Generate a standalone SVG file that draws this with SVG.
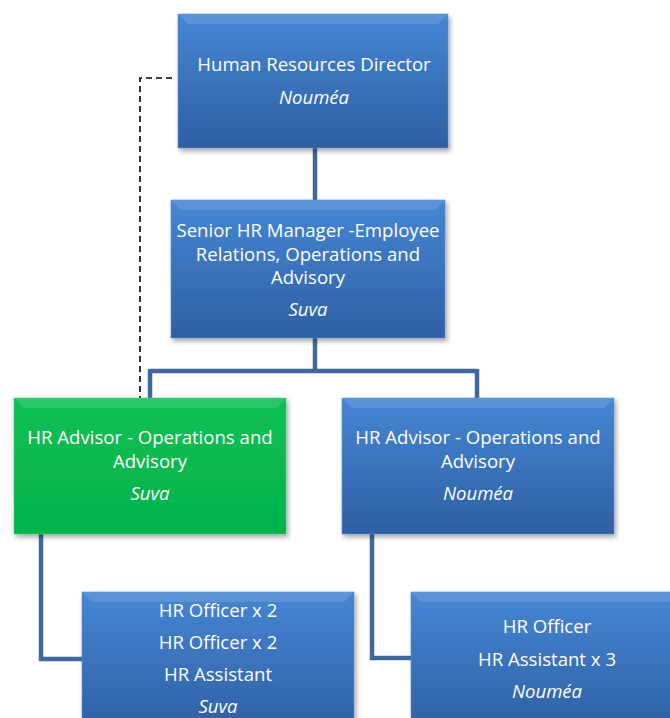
<svg xmlns="http://www.w3.org/2000/svg" width="670" height="718" viewBox="0 0 670 718">
<defs>
<linearGradient id="gb" x1="0" y1="0" x2="0" y2="1">
<stop offset="0" stop-color="#4686d4"/>
<stop offset="1" stop-color="#2e5fa3"/>
</linearGradient>
<linearGradient id="gg" x1="0" y1="0" x2="0" y2="1">
<stop offset="0" stop-color="#0abf54"/>
<stop offset="1" stop-color="#05b24b"/>
</linearGradient>
<filter id="sh" x="-10%" y="-10%" width="125%" height="125%">
<feDropShadow dx="2" dy="3" stdDeviation="2.5" flood-color="#000" flood-opacity="0.35"/>
</filter>
</defs>
<style>
.box{filter:url(#sh);stroke:#5b8cc8;stroke-width:0.6}
.b{fill:url(#gb)}
.g{fill:url(#gg);stroke:#3fcf78}
.bev{fill:#fff;opacity:0.12}
.t{font-family:"Open Sans","Liberation Sans",sans-serif;font-size:18.6px;fill:#fff;text-anchor:middle}
.i{font-style:italic}
.c{fill:none;stroke:#41689c;stroke-width:4.5}
.d{fill:none;stroke:#000;stroke-width:1.6;stroke-dasharray:6,4}
</style>
<g id="connectors">
<path class="c" d="M315 148V200"/>
<path class="c" d="M315 338V371M150 371H477M150 369V398M477 369V398"/>
<path class="c" d="M41 534V659H82"/>
<path class="c" d="M372 534V658H411"/>
<path class="d" d="M172 78H140V398"/>
</g>
<g id="n1">
<rect class="box b" x="178" y="14" width="270" height="134"/>
<polygon class="bev" points="178,14 448,14 438,24 188,24"/>
<text class="t" x="314" y="71">Human Resources Director</text>
<text class="t i" x="314" y="104">Nouméa</text>
</g>
<g id="n2">
<rect class="box b" x="171" y="200" width="274" height="138"/>
<polygon class="bev" points="171,200 445,200 435,210 181,210"/>
<text class="t" x="308" y="237">Senior HR Manager -Employee</text>
<text class="t" x="308" y="261">Relations, Operations and</text>
<text class="t" x="308" y="284">Advisory</text>
<text class="t i" x="308" y="316">Suva</text>
</g>
<g id="n3">
<rect class="box g" x="14" y="398" width="272" height="136"/>
<polygon class="bev" points="14,398 286,398 276,408 24,408"/>
<text class="t" x="150" y="444">HR Advisor - Operations and</text>
<text class="t" x="150" y="468">Advisory</text>
<text class="t i" x="150" y="500">Suva</text>
</g>
<g id="n4">
<rect class="box b" x="342" y="398" width="272" height="136"/>
<polygon class="bev" points="342,398 614,398 604,408 352,408"/>
<text class="t" x="478" y="444">HR Advisor - Operations and</text>
<text class="t" x="478" y="468">Advisory</text>
<text class="t i" x="478" y="500">Nouméa</text>
</g>
<g id="n5">
<rect class="box b" x="82" y="592" width="272" height="140"/>
<polygon class="bev" points="82,592 354,592 344,602 92,602"/>
<text class="t" x="218" y="617">HR Officer x 2</text>
<text class="t" x="218" y="649">HR Officer x 2</text>
<text class="t" x="218" y="681">HR Assistant</text>
<text class="t i" x="218" y="713">Suva</text>
</g>
<g id="n6">
<rect class="box b" x="411" y="592" width="272" height="140"/>
<polygon class="bev" points="411,592 683,592 673,602 421,602"/>
<text class="t" x="547" y="633">HR Officer</text>
<text class="t" x="547" y="666">HR Assistant x 3</text>
<text class="t i" x="547" y="698">Nouméa</text>
</g>
</svg>
